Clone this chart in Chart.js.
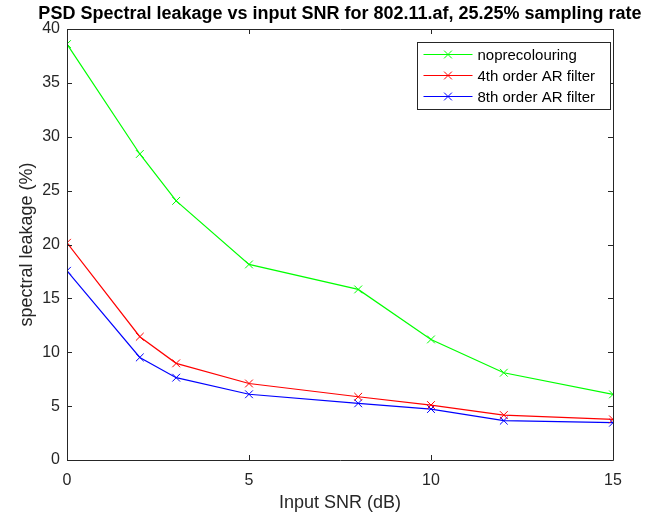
<!DOCTYPE html>
<html>
<head>
<meta charset="utf-8">
<script src="https://cdn.jsdelivr.net/npm/chart.js@4/dist/chart.umd.min.js"></script>
<style>
  html, body { margin: 0; padding: 0; background: #fff; }
  #wrap { width: 666px; height: 515px; }
</style>
</head>
<body>
<div id="wrap"><canvas id="c" width="666" height="515"></canvas></div>
<script>
// Input SNR values (dB)
const snr = [0, 2, 3, 5, 8, 10, 12, 15];

// Spectral leakage (%) per method
const noPrecolouring = [38.6, 28.4, 24.05, 18.15, 15.83, 11.19, 8.1, 6.09];
const ar4 = [20.16, 11.44, 8.97, 7.1, 5.87, 5.1, 4.17, 3.77];
const ar8 = [17.56, 9.52, 7.64, 6.1, 5.26, 4.73, 3.65, 3.46];

const seriesNames = ['noprecolouring', '4th order AR filter', '8th order AR filter'];
const seriesColors = ['#00ff00', '#ff0000', '#0000ff'];

const xTicks = [0, 5, 10, 15];
const yTicks = [0, 5, 10, 15, 20, 25, 30, 35, 40];

const titleText = 'PSD Spectral leakage vs input SNR for 802.11.af, 25.25% sampling rate';
const xTitle = 'Input SNR (dB)';
const yTitle = 'spectral leakage (%)';

const FONT = "'Liberation Sans', Arial, sans-serif";
const AXIS_COLOR = '#262626';

function toPoints(ys) {
  return snr.map((x, i) => ({ x: x, y: ys[i] }));
}

const seriesValues = [noPrecolouring, ar4, ar8];

const datasets = seriesValues.map((vals, i) => ({
  label: seriesNames[i],
  data: toPoints(vals),
  borderColor: seriesColors[i],
  backgroundColor: seriesColors[i],
  borderWidth: 1.2,
  pointStyle: 'crossRot',
  pointRadius: 5.5,
  pointBorderWidth: 1,
  pointHoverRadius: 5.5,
  tension: 0,
  fill: false
}));

// Box around the plot area with inward tick marks on all four sides
const boxAndTicks = {
  id: 'boxAndTicks',
  afterDatasetsDraw(chart) {
    const { ctx, chartArea: a, scales } = chart;
    const len = 5;
    ctx.save();
    ctx.strokeStyle = AXIS_COLOR;
    ctx.lineWidth = 1;
    ctx.beginPath();
    ctx.rect(Math.round(a.left) + 0.5, Math.round(a.top) + 0.5,
             Math.round(a.right - a.left), Math.round(a.bottom - a.top));
    ctx.stroke();
    ctx.beginPath();
    xTicks.forEach(v => {
      const px = Math.round(scales.x.getPixelForValue(v)) + 0.5;
      ctx.moveTo(px, a.bottom); ctx.lineTo(px, a.bottom - len);
      ctx.moveTo(px, a.top); ctx.lineTo(px, a.top + len);
    });
    yTicks.forEach(v => {
      const py = Math.round(scales.y.getPixelForValue(v)) + 0.5;
      ctx.moveTo(a.left, py); ctx.lineTo(a.left + len, py);
      ctx.moveTo(a.right, py); ctx.lineTo(a.right - len, py);
    });
    ctx.stroke();
    ctx.restore();
  }
};

// Legend in the upper right corner: line sample with marker, then the name
const boxLegend = {
  id: 'boxLegend',
  afterDraw(chart) {
    const { ctx, chartArea: a } = chart;
    const w = 193, rowH = 21, h = 67;
    const left = Math.round(a.right - 3 - w) + 0.5;
    const top = Math.round(a.top + 13) + 0.5;
    ctx.save();
    ctx.fillStyle = '#fff';
    ctx.fillRect(left, top, w, h);
    ctx.strokeStyle = AXIS_COLOR;
    ctx.lineWidth = 1;
    ctx.strokeRect(left, top, w, h);
    ctx.font = '15px ' + FONT;
    ctx.textBaseline = 'middle';
    ctx.textAlign = 'left';
    chart.data.datasets.forEach((ds, i) => {
      const cy = top + 12 + i * rowH;
      ctx.strokeStyle = ds.borderColor;
      ctx.lineWidth = 1.2;
      ctx.beginPath();
      ctx.moveTo(left + 6, cy); ctx.lineTo(left + 55, cy);
      ctx.stroke();
      const mx = left + 30.5, r = 3.9;
      ctx.lineWidth = 1;
      ctx.beginPath();
      ctx.moveTo(mx - r, cy - r); ctx.lineTo(mx + r, cy + r);
      ctx.moveTo(mx - r, cy + r); ctx.lineTo(mx + r, cy - r);
      ctx.stroke();
      ctx.fillStyle = '#000';
      ctx.fillText(ds.label, left + 60, cy + 1);
    });
    ctx.restore();
  }
};

new Chart(document.getElementById('c'), {
  type: 'line',
  data: { datasets: datasets },
  options: {
    responsive: false,
    animation: false,
    events: [],
    layout: { padding: { left: 14, right: 0, top: 0, bottom: 0 } },
    plugins: {
      legend: { display: false },
      tooltip: { enabled: false },
      title: {
        display: true,
        text: titleText,
        color: '#000',
        font: { family: FONT, size: 18, weight: 'bold' },
        padding: { top: 3.5, bottom: 3.9 }
      }
    },
    scales: {
      x: {
        type: 'linear',
        min: 0, max: 15,
        afterFit(s) { s.height = 55; },
        afterBuildTicks(s) { s.ticks = xTicks.map(v => ({ value: v })); },
        grid: { display: false, drawTicks: false },
        border: { display: false },
        ticks: { color: AXIS_COLOR, font: { family: FONT, size: 16 }, padding: 11, maxRotation: 0 },
        title: { display: true, text: xTitle, color: AXIS_COLOR, font: { family: FONT, size: 18 }, padding: { top: 0, bottom: 1.2 } }
      },
      y: {
        type: 'linear',
        min: 0, max: 40,
        afterFit(s) { s.width = 53; },
        afterBuildTicks(s) { s.ticks = yTicks.map(v => ({ value: v })); },
        grid: { display: false, drawTicks: false },
        border: { display: false },
        ticks: { color: AXIS_COLOR, font: { family: FONT, size: 16 }, padding: 7 },
        title: { display: true, text: yTitle, color: AXIS_COLOR, font: { family: FONT, size: 18 }, padding: { top: 2.2, bottom: 0 } }
      },
      yRight: {
        type: 'linear',
        position: 'right',
        min: 0, max: 40,
        afterFit(s) { s.width = 53; },
        grid: { display: false, drawTicks: false },
        border: { display: false },
        ticks: { display: false }
      }
    }
  },
  plugins: [boxAndTicks, boxLegend]
});
</script>
</body>
</html>
